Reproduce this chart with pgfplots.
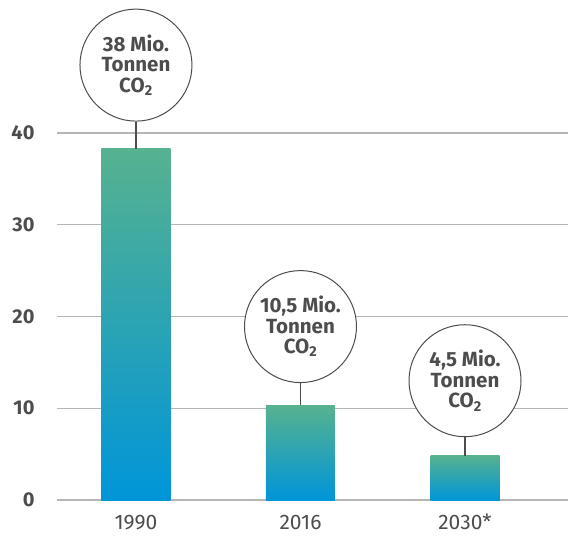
\documentclass[border=0pt]{standalone}
\usepackage{pgfplots}
\pgfplotsset{compat=1.18}
\usepackage{fontspec}
\setmainfont{Fira Sans}
\definecolor{txt}{HTML}{4D4D4D}
\definecolor{gridc}{HTML}{B5B5B5}
\definecolor{bartop}{HTML}{56B28F}
\definecolor{barmid}{HTML}{14A5AA}
\definecolor{barbot}{HTML}{0095D9}
\tikzset{bubble/.style={circle, draw=txt, line width=1pt, fill=white,
        minimum size=112pt, inner sep=0pt, align=center, text=txt,
        font=\fontsize{20.5}{20.5}\selectfont\bfseries}}
\begin{document}
\begin{tikzpicture}[x=1pt,y=1pt]
\useasboundingbox (-57,-36) rectangle (511,500);
\begin{axis}[
    at={(0,0)}, anchor=south west,
    scale only axis, width=511pt, height=367pt,
    xmin=-0.48, xmax=2.626, ymin=0, ymax=40,
    ybar, bar width=69pt, bar shift=0pt,
    xtick={0,1,2}, xticklabels={1990,2016,2030*},
    ytick={0,10,20,30,40},
    ymajorgrids, grid style={gridc, line width=1.3pt},
    axis line style={draw=none},
    major tick length=0pt,
    /pgf/number format/assume math mode=true,
    tick label style={font=\fontsize{21}{24}\selectfont, text=txt},
    yticklabel style={font=\fontsize{20}{24}\selectfont\bfseries, xshift=-19pt},
    xticklabel style={anchor=north, inner sep=0pt, text height=14.5pt,
        text depth=0pt, yshift=-15pt},
    clip=false,
    bars/.style={draw=none, top color=bartop, middle color=barmid, bottom color=barbot},
]
% one plot per bar, so that each bar gets its own gradient
\addplot[bars] coordinates {(0,38.3)};
\addplot[bars] coordinates {(1,10.3)};
\addplot[bars] coordinates {(2,4.8)};

% Sprechblasen
\node[bubble] (b1) at (axis cs:0,47.4) {38 Mio.\\Tonnen\\CO\textsubscript{2}};
\node[bubble] (b2) at (axis cs:1,18.9) {10,5 Mio.\\Tonnen\\CO\textsubscript{2}};
\node[bubble] (b3) at (axis cs:2,13.0) {4,5 Mio.\\Tonnen\\CO\textsubscript{2}};
\draw[txt, line width=1.3pt] (b1.south) -- (axis cs:0,38.3);
\draw[txt, line width=1.3pt] (b2.south) -- (axis cs:1,10.3);
\draw[txt, line width=1.3pt] (b3.south) -- (axis cs:2,4.8);
\end{axis}
\end{tikzpicture}
\end{document}
